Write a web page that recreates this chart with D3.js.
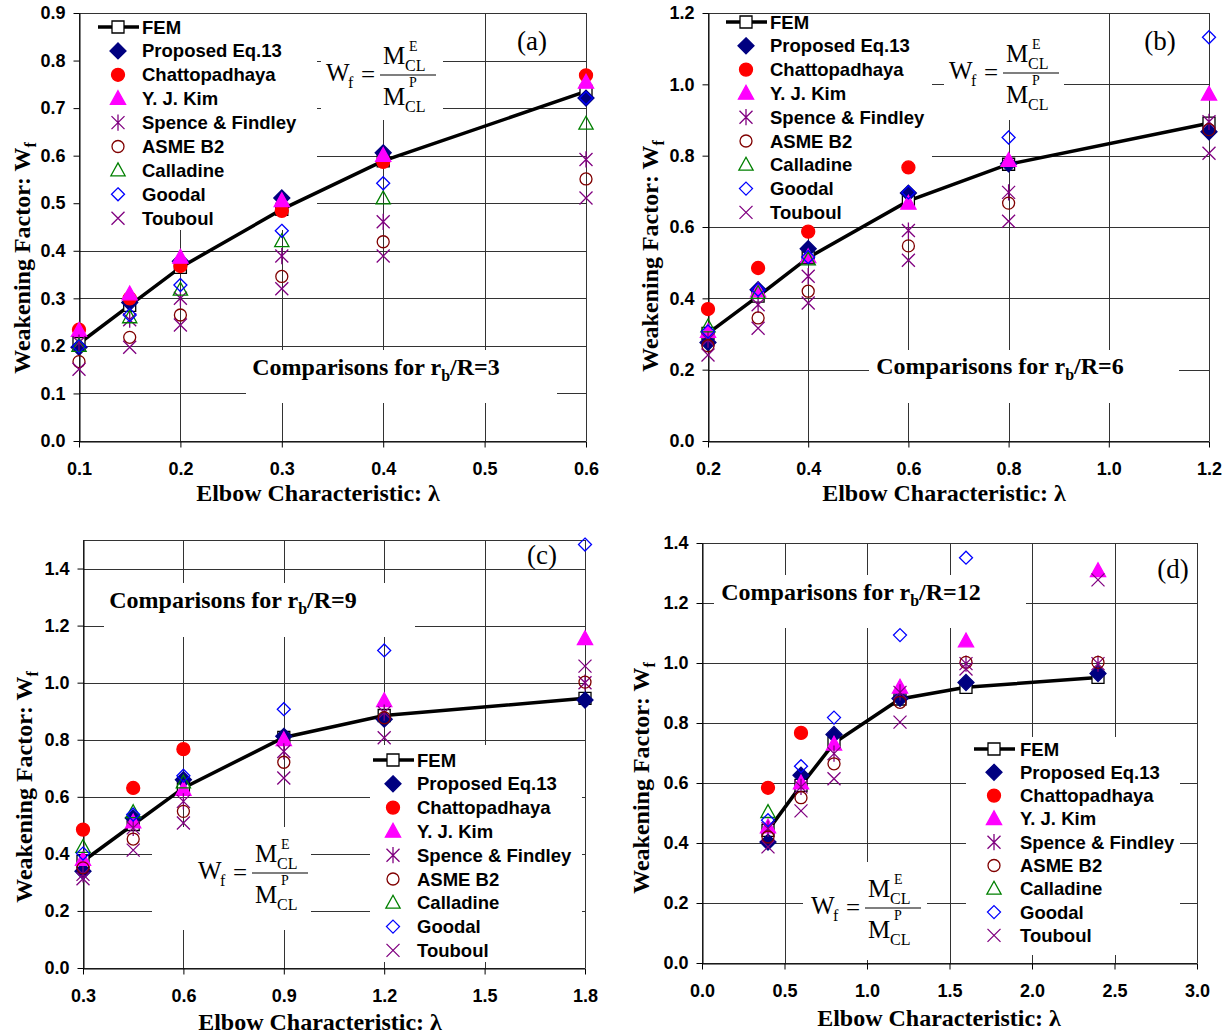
<!DOCTYPE html>
<html>
<head>
<meta charset="utf-8">
<script src="https://cdnjs.cloudflare.com/ajax/libs/d3/7.8.5/d3.min.js"></script>
<style>
  body { margin: 0; background: #fff; }
</style>
</head>
<body>
<svg id="chart" width="1228" height="1034"></svg>
<script>
// legend names, same order as the value arrays below
const seriesNames = ["FEM", "Proposed Eq.13", "Chattopadhaya", "Y. J. Kim", "Spence & Findley",
                     "ASME B2", "Calladine", "Goodal", "Touboul"];

// (a) rb/R = 3
const lambdaA    = [0.1, 0.15, 0.2, 0.3, 0.4, 0.6];
const femA       = [0.205, 0.285, 0.365, 0.487, 0.589, 0.735];
const propA      = [0.197, 0.291, 0.378, 0.511, 0.606, 0.721];
const chattA     = [0.234, 0.300, 0.368, 0.484, 0.587, 0.769];
const kimA       = [0.232, 0.309, 0.386, 0.505, 0.600, 0.754];
const spenceA    = [0.207, 0.255, 0.300, 0.389, 0.461, 0.592];
const asmeA      = [0.167, 0.218, 0.265, 0.346, 0.419, 0.551];
const calladineA = [0.200, 0.260, 0.318, 0.420, 0.510, 0.667];
const goodalA    = [0.199, 0.265, 0.328, 0.442, 0.542, 0.721];
const touboulA   = [0.151, 0.197, 0.244, 0.320, 0.389, 0.511];

// (b) rb/R = 6
const lambdaB    = [0.2, 0.3, 0.4, 0.6, 0.8, 1.2];
const femB       = [0.302, 0.406, 0.514, 0.673, 0.776, 0.891];
const propB      = [0.276, 0.424, 0.539, 0.695, 0.777, 0.867];
const chattB     = [0.370, 0.485, 0.587, 0.767, null, null];
const kimB       = [0.307, 0.420, 0.516, 0.666, 0.786, 0.972];
const spenceB    = [0.284, 0.382, 0.462, 0.590, 0.697, 0.895];
const asmeB      = [0.267, 0.345, 0.420, 0.547, 0.667, 0.873];
const calladineB = [0.321, 0.415, 0.509, null, null, null];
const goodalB    = [0.307, 0.424, 0.516, 0.697, 0.851, 1.132];
const touboulB   = [0.241, 0.316, 0.387, 0.507, 0.616, 0.807];

// (c) rb/R = 9
const lambdaC    = [0.3, 0.45, 0.6, 0.9, 1.2, 1.8];
const femC       = [0.374, 0.503, 0.631, 0.808, 0.885, 0.945];
const propC      = [0.339, 0.526, 0.660, 0.812, 0.872, 0.939];
const chattC     = [0.485, 0.631, 0.767, null, null, null];
const kimC       = [0.380, 0.511, 0.625, 0.800, 0.936, 1.154];
const spenceC    = [0.328, 0.491, 0.584, 0.759, 0.895, 1.000];
const asmeC      = [0.351, 0.452, 0.549, 0.721, 0.877, 1.002];
const calladineC = [0.424, 0.546, 0.650, null, null, null];
const goodalC    = [0.401, 0.538, 0.674, 0.907, 1.113, 1.484];
const touboulC   = [0.313, 0.413, 0.508, 0.666, 0.807, 1.058];

// (d) rb/R = 12
const lambdaD    = [0.4, 0.6, 0.8, 1.2, 1.6, 2.4];
const femD       = [0.442, 0.592, 0.733, 0.880, 0.919, 0.952];
const propD      = [0.403, 0.626, 0.762, 0.882, 0.935, 0.965];
const chattD     = [0.584, 0.767, null, null, null, null];
const kimD       = [0.453, 0.600, 0.729, 0.919, 1.073, 1.307];
const spenceD    = [0.448, 0.587, 0.698, 0.902, 0.998, 0.998];
const asmeD      = [0.420, 0.551, 0.664, 0.869, 1.002, 1.002];
const calladineD = [0.503, null, null, null, null, null];
const goodalD    = [0.476, 0.656, 0.818, 1.093, 1.351, null];
const touboulD   = [0.387, 0.507, 0.614, 0.803, 0.980, 1.277];

// ticks
const xTicksA = [0.1, 0.2, 0.3, 0.4, 0.5, 0.6];
const yTicksA = [0, 0.1, 0.2, 0.3, 0.4, 0.5, 0.6, 0.7, 0.8, 0.9];
const xTicksB = [0.2, 0.4, 0.6, 0.8, 1.0, 1.2];
const yTicksB = [0, 0.2, 0.4, 0.6, 0.8, 1.0, 1.2];
const xTicksC = [0.3, 0.6, 0.9, 1.2, 1.5, 1.8];
const yTicksC = [0, 0.2, 0.4, 0.6, 0.8, 1.0, 1.2, 1.4];
const xTicksD = [0, 0.5, 1.0, 1.5, 2.0, 2.5, 3.0];
const yTicksD = [0, 0.2, 0.4, 0.6, 0.8, 1.0, 1.2, 1.4];

const panelLabels = ["(a)", "(b)", "(c)", "(d)"];
const ratios = ["3", "6", "9", "12"];

const ARIAL = "Arial, 'Liberation Sans', sans-serif";
const TIMES = "'Times New Roman', 'Liberation Serif', serif";

// marker looks, one per series
const styles = [
  { type: "square",   fill: "#fff",    stroke: "#000",    s: 6 },
  { type: "diamond",  fill: "#000080", stroke: "#000080", s: 8 },
  { type: "circle",   fill: "#ff0000", stroke: "#ff0000", s: 6.5 },
  { type: "triangle", fill: "#ff00ff", stroke: "#ff00ff", s: 8 },
  { type: "asterisk", fill: "none",    stroke: "#800080", s: 6.5 },
  { type: "circle",   fill: "none",    stroke: "#800000", s: 6 },
  { type: "triangle", fill: "none",    stroke: "#008000", s: 7.5 },
  { type: "diamond",  fill: "none",    stroke: "#0000ff", s: 6.5 },
  { type: "x",        fill: "none",    stroke: "#800080", s: 6.5 }
];

function markerPath(type, s) {
  switch (type) {
    case "square":   return `M${-s},${-s}H${s}V${s}H${-s}Z`;
    case "diamond":  return `M0,${-s}L${s},0L0,${s}L${-s},0Z`;
    case "triangle": return `M0,${-s}L${s * 0.95},${s * 0.72}L${-s * 0.95},${s * 0.72}Z`;
    case "circle":   return `M${s},0A${s},${s} 0 1,1 ${-s},0A${s},${s} 0 1,1 ${s},0Z`;
    case "x":        return `M${-s},${-s}L${s},${s}M${s},${-s}L${-s},${s}`;
    case "asterisk": return `M${-s},${-s}L${s},${s}M${s},${-s}L${-s},${s}M0,${-s * 1.25}L0,${s * 1.25}`;
  }
}

const panels = [
  { lam: lambdaA, vals: [femA, propA, chattA, kimA, spenceA, asmeA, calladineA, goodalA, touboulA],
    xTicks: xTicksA, yTicks: yTicksA, xDom: [0.1, 0.6], yDom: [0, 0.9],
    box: { left: 79, right: 586, bottom: 441, top: 13 },
    legend: { rect: [80, 14, 237, 216], y0: 27, step: 23.9, mx: 118, tx: 142 },
    formula: { rect: [321, 14, 122, 106], cx: 408, cy: 75 },
    comp: { rect: [246, 350, 311, 53], cx: 376, by: 375 },
    label: { cx: 532, by: 50 },
    ytitle: { x: 30, cy: 258 }, xtitle: { cx: 318, by: 501 } },
  { lam: lambdaB, vals: [femB, propB, chattB, kimB, spenceB, asmeB, calladineB, goodalB, touboulB],
    xTicks: xTicksB, yTicks: yTicksB, xDom: [0.2, 1.2], yDom: [0, 1.2],
    box: { left: 708, right: 1209, bottom: 441, top: 13 },
    legend: { rect: [709, 14, 223, 212], y0: 22, step: 23.8, mx: 746, tx: 770 },
    formula: { rect: [944, 14, 120, 106], cx: 1031, cy: 73 },
    comp: { rect: [869, 350, 310, 53], cx: 1000, by: 374 },
    label: { cx: 1160, by: 50 },
    ytitle: { x: 658, cy: 256 }, xtitle: { cx: 944, by: 501 } },
  { lam: lambdaC, vals: [femC, propC, chattC, kimC, spenceC, asmeC, calladineC, goodalC, touboulC],
    xTicks: xTicksC, yTicks: yTicksC, xDom: [0.3, 1.8], yDom: [0, 1.5],
    box: { left: 83, right: 585, bottom: 968, top: 540 },
    legend: { rect: [370, 745, 212, 217], y0: 760, step: 23.8, mx: 393, tx: 417 },
    formula: { rect: [152, 827, 159, 103], cx: 280, cy: 873 },
    comp: { rect: [104, 583, 311, 54], cx: 233, by: 608 },
    label: { cx: 542, by: 564 },
    ytitle: { x: 32, cy: 787 }, xtitle: { cx: 320, by: 1030 } },
  { lam: lambdaD, vals: [femD, propD, chattD, kimD, spenceD, asmeD, calladineD, goodalD, touboulD],
    xTicks: xTicksD, yTicks: yTicksD, xDom: [0, 3], yDom: [0, 1.4],
    box: { left: 702, right: 1197, bottom: 963, top: 543 },
    legend: { rect: [966, 737, 214, 218], y0: 749, step: 23.3, mx: 994, tx: 1020 },
    formula: { rect: [803, 862, 124, 98], cx: 893, cy: 908 },
    comp: { rect: [714, 575, 312, 53], cx: 851, by: 600 },
    label: { cx: 1173, by: 578 },
    ytitle: { x: 649, cy: 778 }, xtitle: { cx: 939, by: 1026 } }
];

const svg = d3.select("#chart");
svg.append("rect").attr("width", 1228).attr("height", 1034).attr("fill", "#fff");

panels.forEach((p, pi) => {
  const g = svg.append("g");
  const x = d3.scaleLinear().domain(p.xDom).range([p.box.left, p.box.right]);
  const y = d3.scaleLinear().domain(p.yDom).range([p.box.bottom, p.box.top]);

  // gridlines
  const grid = g.append("g").attr("stroke", "#333").attr("stroke-width", 1);
  grid.selectAll(".hg").data(p.yTicks.concat([p.yDom[1]])).enter().append("line")
    .attr("x1", p.box.left).attr("x2", p.box.right)
    .attr("y1", d => Math.round(y(d)) + 0.5).attr("y2", d => Math.round(y(d)) + 0.5);
  grid.selectAll(".vg").data(p.xTicks).enter().append("line")
    .attr("y1", p.box.top).attr("y2", p.box.bottom)
    .attr("x1", d => Math.round(x(d)) + 0.5).attr("x2", d => Math.round(x(d)) + 0.5);

  // white boxes behind legend / formula / caption
  [p.legend.rect, p.formula.rect, p.comp.rect].forEach(r => {
    g.append("rect").attr("x", r[0]).attr("y", r[1]).attr("width", r[2]).attr("height", r[3]).attr("fill", "#fff");
  });

  // axes
  const yAxis = g.append("g").attr("transform", `translate(${Math.round(p.box.left) + 0.5},0)`)
    .call(d3.axisLeft(y).tickValues(p.yTicks).tickFormat(d3.format(".1f")).tickSize(6).tickSizeOuter(0).tickPadding(8));
  const xAxis = g.append("g").attr("transform", `translate(0,${Math.round(p.box.bottom) + 0.5})`)
    .call(d3.axisBottom(x).tickValues(p.xTicks).tickFormat(d3.format(".1f")).tickSize(6).tickSizeOuter(0).tickPadding(15));
  [yAxis, xAxis].forEach(a => {
    a.selectAll("path, line").attr("stroke", "#000");
    a.selectAll("text").attr("font-family", ARIAL).attr("font-weight", "bold")
      .attr("font-size", 18).attr("fill", "#000");
  });

  // FEM line
  const femPts = p.lam.map((l, i) => [l, p.vals[0][i]]);
  g.append("path").datum(femPts)
    .attr("d", d3.line().x(d => x(d[0])).y(d => y(d[1])))
    .attr("fill", "none").attr("stroke", "#000").attr("stroke-width", 3.5);

  // markers, in series order
  p.vals.forEach((arr, si) => {
    const st = styles[si];
    const pts = p.lam.map((l, i) => [l, arr[i]]).filter(d => d[1] != null);
    g.selectAll(null).data(pts).enter().append("path")
      .attr("transform", d => `translate(${x(d[0])},${y(d[1])})`)
      .attr("d", markerPath(st.type, st.s))
      .attr("fill", st.fill).attr("stroke", st.stroke).attr("stroke-width", 1.3);
  });

  // legend
  const lg = g.append("g");
  seriesNames.forEach((name, si) => {
    const st = styles[si];
    const cy = p.legend.y0 + si * p.legend.step;
    if (si === 0) {
      lg.append("line").attr("x1", p.legend.mx - 20).attr("x2", p.legend.mx + 21)
        .attr("y1", cy).attr("y2", cy).attr("stroke", "#000").attr("stroke-width", 3.5);
    }
    lg.append("path").attr("transform", `translate(${p.legend.mx},${cy})`)
      .attr("d", markerPath(st.type, st.s))
      .attr("fill", st.fill).attr("stroke", st.stroke).attr("stroke-width", 1.3);
    lg.append("text").attr("x", p.legend.tx).attr("y", cy + 6.5)
      .attr("font-family", ARIAL).attr("font-weight", "bold").attr("font-size", 18.5)
      .text(name);
  });

  // formula Wf = M^E_CL / M^P_CL
  const f = p.formula, fg = g.append("g").attr("font-family", TIMES).attr("fill", "#000");
  fg.append("text").attr("x", f.cx - 82).attr("y", f.cy + 6).attr("font-size", 25).text("W");
  fg.append("text").attr("x", f.cx - 60).attr("y", f.cy + 13).attr("font-size", 16).text("f");
  fg.append("text").attr("x", f.cx - 47).attr("y", f.cy + 8).attr("font-size", 25).text("=");
  fg.append("line").attr("x1", f.cx - 28).attr("x2", f.cx + 28).attr("y1", f.cy).attr("y2", f.cy)
    .attr("stroke", "#000").attr("stroke-width", 1.2);
  fg.append("text").attr("x", f.cx - 25).attr("y", f.cy - 11).attr("font-size", 25).text("M");
  fg.append("text").attr("x", f.cx - 3).attr("y", f.cy - 4).attr("font-size", 16).text("CL");
  fg.append("text").attr("x", f.cx + 1).attr("y", f.cy - 24).attr("font-size", 14).text("E");
  fg.append("text").attr("x", f.cx - 25).attr("y", f.cy + 30).attr("font-size", 25).text("M");
  fg.append("text").attr("x", f.cx - 3).attr("y", f.cy + 37).attr("font-size", 16).text("CL");
  fg.append("text").attr("x", f.cx + 1).attr("y", f.cy + 12).attr("font-size", 14).text("P");

  // caption
  const ct = g.append("text").attr("x", p.comp.cx).attr("y", p.comp.by).attr("text-anchor", "middle")
    .attr("font-family", TIMES).attr("font-weight", "bold").attr("font-size", 24);
  ct.append("tspan").text("Comparisons for r");
  ct.append("tspan").attr("dy", 6).attr("font-size", 16).text("b");
  ct.append("tspan").attr("dy", -6).text("/R=" + ratios[pi]);

  // panel label
  g.append("text").attr("x", p.label.cx).attr("y", p.label.by).attr("text-anchor", "middle")
    .attr("font-family", TIMES).attr("font-size", 27).text(panelLabels[pi]);

  // axis titles
  g.append("text").attr("x", p.xtitle.cx).attr("y", p.xtitle.by).attr("text-anchor", "middle")
    .attr("font-family", TIMES).attr("font-weight", "bold").attr("font-size", 24)
    .text("Elbow Characteristic: λ");
  const yt = g.append("text").attr("text-anchor", "middle")
    .attr("transform", `translate(${p.ytitle.x},${p.ytitle.cy}) rotate(-90)`)
    .attr("font-family", TIMES).attr("font-weight", "bold").attr("font-size", 24);
  yt.append("tspan").text("Weakening Factor: W");
  yt.append("tspan").attr("dy", 6).attr("font-size", 16).text("f");
});
</script>
</body>
</html>
